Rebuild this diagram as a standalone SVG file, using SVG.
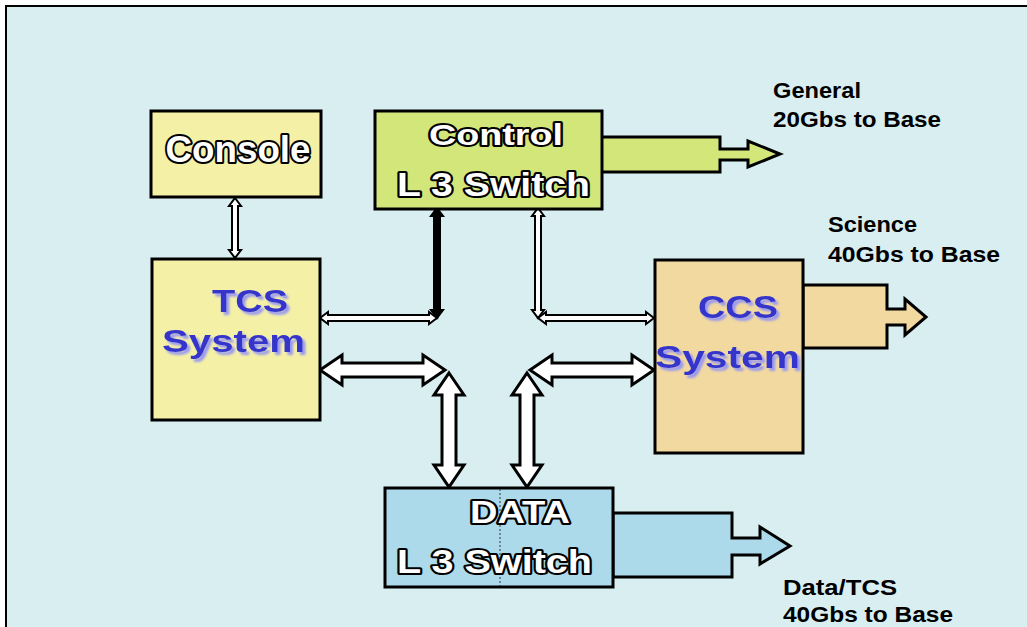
<svg xmlns="http://www.w3.org/2000/svg" width="1027" height="627" viewBox="0 0 1027 627">
<defs>
<filter id="sh" x="-10%" y="-20%" width="130%" height="150%">
  <feDropShadow dx="3" dy="3" stdDeviation="0.8" flood-color="#9a9af0" flood-opacity="1"/>
</filter>
</defs>
<style>
.box{stroke:#000;stroke-width:3}
.out{stroke:#000;stroke-width:3;stroke-linejoin:miter}
.big{fill:#fff;stroke:#000;stroke-width:3;stroke-linejoin:miter}
.thin{fill:#fff;stroke:#000;stroke-width:2;stroke-linejoin:miter}
.ol{font-family:"Liberation Sans",Arial,sans-serif;font-weight:bold;fill:#fff;stroke:#000;stroke-width:4;paint-order:stroke;stroke-linejoin:round}
.blue{font-family:"Liberation Sans",Arial,sans-serif;font-weight:bold;fill:#3434cc;filter:url(#sh)}
.lbl{font-family:"Liberation Sans",Arial,sans-serif;font-weight:bold;font-size:22px;fill:#000}
</style>
<rect x="0" y="0" width="1027" height="627" fill="#ffffff"/>
<rect x="6" y="6" width="1021" height="621" fill="#d9eef0"/>
<path d="M6,627 L6,6 L1027,6" fill="none" stroke="#000" stroke-width="2"/>

<g id="connectors">
  <path class="thin" d="M235,198 L241,206 L238,206 L238,250 L241,250 L235,258 L229,250 L232,250 L232,206 L229,206 Z"/>
  <path class="thin" style="fill:#000" d="M437,208 L443,216 L440,216 L440,310 L443,310 L437,318 L431,310 L434,310 L434,216 L431,216 Z"/>
  <path class="thin" d="M320,318 L328,312 L328,315 L429,315 L429,312 L437,318 L429,324 L429,321 L328,321 L328,324 Z"/>
  <path class="thin" d="M538,208 L544,216 L541,216 L541,310 L544,310 L538,318 L532,310 L535,310 L535,216 L532,216 Z"/>
  <path class="thin" d="M538,318 L546,312 L546,315 L646,315 L646,312 L654,318 L646,324 L646,321 L546,321 L546,324 Z"/>
  <path class="big" d="M320,370 L342,355 L342,363 L423,363 L423,355 L445,370 L423,385 L423,377 L342,377 L342,385 Z"/>
  <path class="big" d="M449,373 L464,395 L456,395 L456,465 L464,465 L449,487 L434,465 L442,465 L442,395 L434,395 Z"/>
  <path class="big" d="M530,370 L552,355 L552,363 L632,363 L632,355 L654,370 L632,385 L632,377 L552,377 L552,385 Z"/>
  <path class="big" d="M527,373 L542,395 L534,395 L534,465 L542,465 L527,487 L512,465 L520,465 L520,395 L512,395 Z"/>
</g>

<g id="outputs">
  <path class="out" fill="#d2e67a" d="M600,137 L720,137 L720,149 L748,149 L748,141 L780,154 L748,167 L748,160 L720,160 L720,172 L600,172 Z"/>
  <path class="out" fill="#f2d9a0" d="M803,285 L887,285 L887,309 L905,309 L905,299 L926,317 L905,335 L905,325 L887,325 L887,348 L803,348 Z"/>
  <path class="out" fill="#addaea" d="M613,513 L732,513 L732,538 L760,538 L760,527 L790,546 L760,564 L760,555 L732,555 L732,577 L613,577 Z"/>
</g>

<g id="console">
  <rect class="box" x="151" y="111" width="170" height="86" fill="#f4f0a6"/>
  <text class="ol" x="238" y="162" font-size="37" text-anchor="middle" textLength="145" lengthAdjust="spacingAndGlyphs">Console</text>
</g>

<g id="control">
  <rect class="box" x="375" y="111" width="227" height="98" fill="#d2e67a"/>
  <text class="ol" x="496" y="145" font-size="30" text-anchor="middle" textLength="134" lengthAdjust="spacingAndGlyphs">Control</text>
  <text class="ol" x="397" y="196" font-size="34" textLength="193" lengthAdjust="spacingAndGlyphs">L 3 Switch</text>
</g>

<g id="tcs">
  <rect class="box" x="152" y="259" width="168" height="161" fill="#f4f0a6"/>
  <text class="blue" x="250" y="312" font-size="32" text-anchor="middle" textLength="76" lengthAdjust="spacingAndGlyphs">TCS</text>
  <text class="blue" x="162" y="352" font-size="32" textLength="143" lengthAdjust="spacingAndGlyphs">System</text>
</g>

<g id="ccs">
  <rect class="box" x="655" y="260" width="148" height="193" fill="#f2d9a0"/>
  <text class="blue" x="738" y="318" font-size="32" text-anchor="middle" textLength="80" lengthAdjust="spacingAndGlyphs">CCS</text>
  <text class="blue" x="655" y="368" font-size="32" textLength="145" lengthAdjust="spacingAndGlyphs">System</text>
</g>

<g id="data">
  <rect class="box" x="385" y="488" width="228" height="99" fill="#addaea"/>
  <line x1="500" y1="489" x2="500" y2="586" stroke="#333" stroke-width="1" stroke-dasharray="2,2"/>
  <text class="ol" x="520" y="523" font-size="31" text-anchor="middle" textLength="100" lengthAdjust="spacingAndGlyphs">DATA</text>
  <text class="ol" x="397" y="573" font-size="34" textLength="195" lengthAdjust="spacingAndGlyphs">L 3 Switch</text>
</g>

<g id="labels">
  <text class="lbl" x="773" y="98" textLength="88" lengthAdjust="spacingAndGlyphs">General</text>
  <text class="lbl" x="773" y="127" textLength="168" lengthAdjust="spacingAndGlyphs">20Gbs to Base</text>
  <text class="lbl" x="828" y="232" textLength="89" lengthAdjust="spacingAndGlyphs">Science</text>
  <text class="lbl" x="828" y="262" textLength="172" lengthAdjust="spacingAndGlyphs">40Gbs to Base</text>
  <text class="lbl" x="783" y="595" textLength="114" lengthAdjust="spacingAndGlyphs">Data/TCS</text>
  <text class="lbl" x="783" y="622" textLength="170" lengthAdjust="spacingAndGlyphs">40Gbs to Base</text>
</g>
</svg>
